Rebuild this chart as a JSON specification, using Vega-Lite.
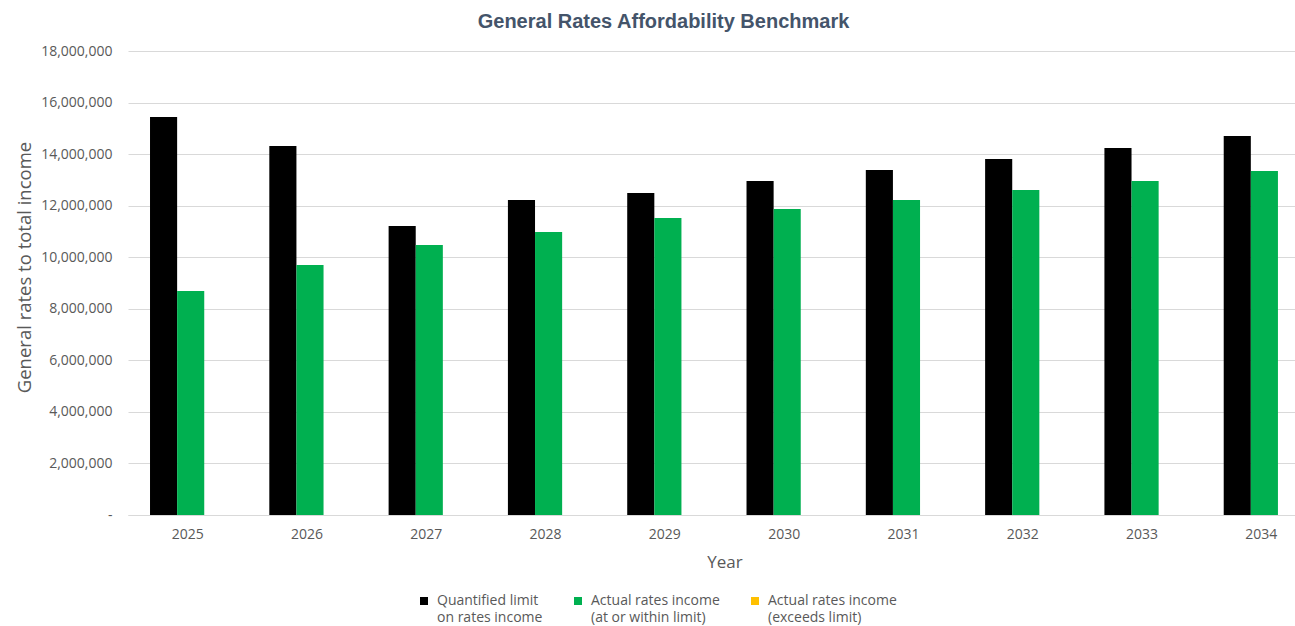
{
  "$schema": "https://vega.github.io/schema/vega-lite/v6.json",
  "width": 1167,
  "height": 464,
  "autosize": {"type": "none"},
  "padding": {"left": 128, "top": 51, "right": 0, "bottom": 111},
  "background": "white",
  "title": {
    "text": "General Rates Affordability Benchmark",
    "font": "Liberation Sans",
    "fontSize": 20,
    "fontWeight": "bold",
    "color": "#44546a",
    "anchor": "middle",
    "dx": -48,
    "dy": 28,
    "offset": 20,
    "baseline": "bottom"
  },
  "data": {
    "values": [
      {"year": "2025", "series": "limit", "value": 15440000},
      {"year": "2025", "series": "within", "value": 8690000},
      {"year": "2026", "series": "limit", "value": 14310000},
      {"year": "2026", "series": "within", "value": 9700000},
      {"year": "2027", "series": "limit", "value": 11210000},
      {"year": "2027", "series": "within", "value": 10470000},
      {"year": "2028", "series": "limit", "value": 12220000},
      {"year": "2028", "series": "within", "value": 10980000},
      {"year": "2029", "series": "limit", "value": 12490000},
      {"year": "2029", "series": "within", "value": 11520000},
      {"year": "2030", "series": "limit", "value": 12960000},
      {"year": "2030", "series": "within", "value": 11870000},
      {"year": "2031", "series": "limit", "value": 13380000},
      {"year": "2031", "series": "within", "value": 12220000},
      {"year": "2032", "series": "limit", "value": 13810000},
      {"year": "2032", "series": "within", "value": 12610000},
      {"year": "2033", "series": "limit", "value": 14240000},
      {"year": "2033", "series": "within", "value": 12960000},
      {"year": "2034", "series": "limit", "value": 14700000},
      {"year": "2034", "series": "within", "value": 13340000}
    ]
  },
  "mark": {"type": "bar"},
  "encoding": {
    "x": {
      "field": "year",
      "type": "nominal",
      "scale": {"range": [0, 1193], "paddingInner": 0, "paddingOuter": 0},
      "axis": {
        "title": "Year",
        "titleFont": "Open Sans",
        "titleFontSize": 17,
        "titleFontWeight": "normal",
        "titleColor": "#595959",
        "titlePadding": 13,
        "labelFont": "Open Sans",
        "labelFontSize": 14,
        "labelColor": "#595959",
        "labelAngle": 0,
        "labelPadding": 12,
        "ticks": false,
        "domainColor": "#d9d9d9",
        "domainWidth": 1,
        "grid": false
      }
    },
    "xOffset": {
      "field": "series",
      "type": "nominal",
      "scale": {"domain": ["limit", "within", "exceeds"], "paddingInner": 0, "paddingOuter": 0.7, "align": 0.58}
    },
    "y": {
      "field": "value",
      "type": "quantitative",
      "scale": {"domain": [0, 18000000], "nice": false},
      "axis": {
        "title": "General rates to total income",
        "titleFont": "Open Sans",
        "titleFontSize": 18.5,
        "titleFontWeight": "normal",
        "titleColor": "#595959",
        "titlePadding": 6,
        "titleY": 216,
        "values": [0, 2000000, 4000000, 6000000, 8000000, 10000000, 12000000, 14000000, 16000000, 18000000],
        "labelExpr": "datum.value == 0 ? '-' : format(datum.value, ',')",
        "labelFont": "Open Sans",
        "labelFontSize": 14,
        "labelColor": "#595959",
        "labelPadding": 16,
        "ticks": false,
        "domain": false,
        "gridColor": "#d9d9d9",
        "gridWidth": 1
      }
    },
    "color": {
      "field": "series",
      "type": "nominal",
      "scale": {"domain": ["limit", "within", "exceeds"], "range": ["#000000", "#00b050", "#ffc000"]},
      "legend": {
        "title": null,
        "orient": "none",
        "direction": "horizontal",
        "legendX": 289,
        "legendY": 543,
        "symbolType": "square",
        "symbolSize": 64,
        "symbolStrokeWidth": 0,
        "labelFont": "Open Sans",
        "labelFontSize": 14,
        "labelColor": "#595959",
        "labelExpr": "datum.value == 'limit' ? ['Quantified limit', 'on rates income'] : datum.value == 'within' ? ['Actual rates income', '(at or within limit)'] : ['Actual rates income', '(exceeds limit)']",
        "labelLimit": 300,
        "columnPadding": 28,
        "labelOffset": 6,
        "encode": {"labels": {"update": {"lineHeight": {"value": 17}}}}
      }
    }
  },
  "config": {
    "view": {"stroke": null}
  }
}
